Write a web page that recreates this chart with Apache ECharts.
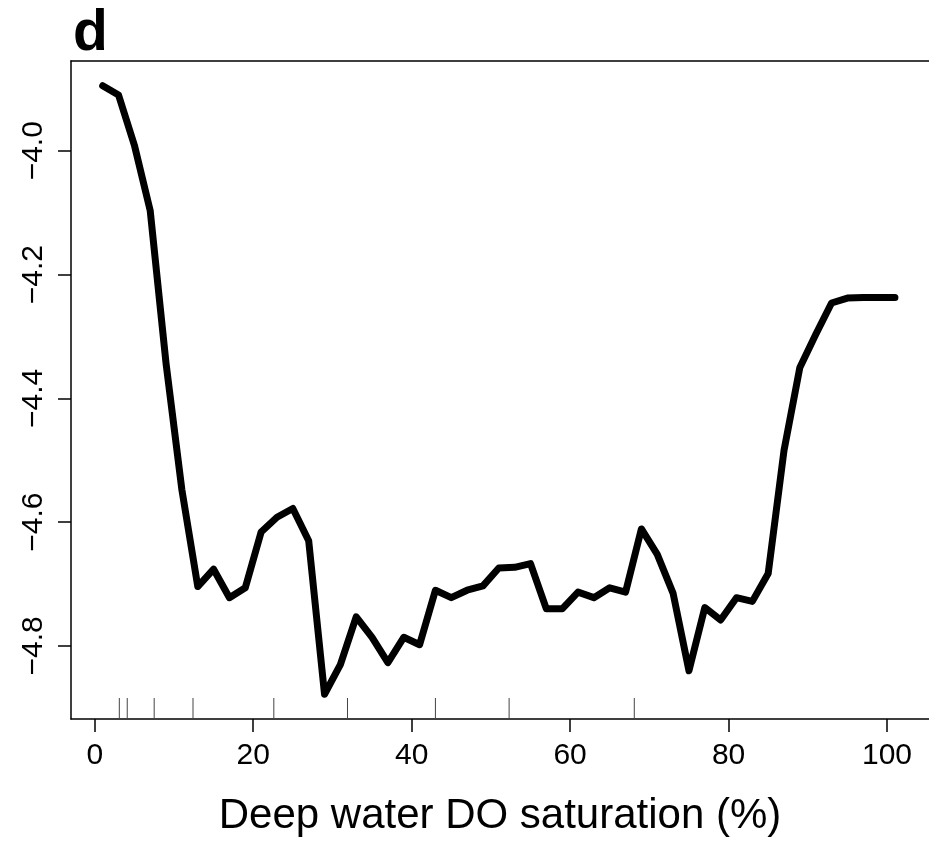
<!DOCTYPE html>
<html>
<head>
<meta charset="utf-8">
<script src="https://cdn.jsdelivr.net/npm/echarts@6/dist/echarts.min.js"></script>
<style>
  html, body { margin: 0; padding: 0; background: #fff; }
  #chart { width: 929px; height: 842px; }
</style>
</head>
<body>
<div id="chart"></div>
<script>
// DO saturation (%) and effect values
var doSat = [1, 3, 5, 7, 9, 11, 13, 15, 17, 19, 21, 23, 25, 27, 29, 31, 33, 35, 37, 39,
    41, 43, 45, 47, 49, 51, 53, 55, 57, 59, 61, 63, 65, 67, 69, 71, 73, 75, 77, 79,
    81, 83, 85, 87, 89, 91, 93, 95, 97, 99, 101];
var effect = [-3.895, -3.910, -3.991, -4.097, -4.344, -4.548, -4.704, -4.676, -4.722, -4.706,
    -4.616, -4.592, -4.578, -4.630, -4.878, -4.830, -4.753, -4.786, -4.827, -4.786,
    -4.798, -4.710, -4.722, -4.710, -4.703, -4.674, -4.673, -4.667, -4.740, -4.740,
    -4.713, -4.722, -4.706, -4.713, -4.611, -4.652, -4.715, -4.840, -4.738, -4.758,
    -4.722, -4.728, -4.683, -4.484, -4.350, -4.297, -4.246, -4.238, -4.237, -4.237, -4.237];
// rug marks along the x axis
var rugX = [3.1, 4.1, 7.5, 12.4, 22.6, 31.9, 43.0, 52.3, 68.1];
var xTicks = [0, 20, 40, 60, 80, 100];
var yTicks = [-4.8, -4.6, -4.4, -4.2, -4.0];

var xMin = -3, xMax = 105.3;
var yMin = -4.918, yMax = -3.855;
var font = 'Liberation Sans, Arial, Helvetica, sans-serif';

var chart = echarts.init(document.getElementById('chart'));

var lineData = doSat.map(function (x, i) { return [x, effect[i]]; });
var rugData = rugX.map(function (x) { return [x, yMin]; });

var axisLine = { show: true, onZero: false, lineStyle: { color: '#000', width: 1.5 } };

chart.setOption({
    animation: false,
    backgroundColor: '#fff',
    grid: { left: 71, right: -3, top: 61, bottom: 122 },
    graphic: [{
        type: 'text', left: 73, top: 6,
        style: { text: 'd', font: 'bold 57px ' + font, fill: '#000' }
    }],
    xAxis: [{
        type: 'value', min: xMin, max: xMax,
        splitLine: { show: false },
        axisLine: axisLine,
        axisTick: { show: true, customValues: xTicks, length: 13, lineStyle: { color: '#000', width: 1.5 } },
        axisLabel: {
            customValues: xTicks, color: '#000', fontSize: 30, fontFamily: font, margin: 22
        },
        name: 'Deep water DO saturation (%)',
        nameLocation: 'middle', nameGap: 76,
        nameTextStyle: { color: '#000', fontSize: 42, fontFamily: font }
    }, {
        // top edge of the box
        type: 'value', position: 'top', min: xMin, max: xMax,
        splitLine: { show: false }, axisLine: axisLine,
        axisTick: { show: false }, axisLabel: { show: false }
    }],
    yAxis: {
        type: 'value', min: yMin, max: yMax,
        splitLine: { show: false },
        axisLine: axisLine,
        axisTick: { show: true, customValues: yTicks, length: 13, lineStyle: { color: '#000', width: 1.5 } },
        axisLabel: {
            customValues: yTicks, rotate: 90, color: '#000', fontSize: 30, fontFamily: font, margin: 22,
            formatter: function (v) { return v.toFixed(1).replace('-', '\u2212'); }
        }
    },
    series: [{
        type: 'line',
        data: lineData,
        showSymbol: false,
        lineStyle: { color: '#000', width: 7, cap: 'round', join: 'round' }
    }, {
        type: 'custom',
        data: rugData,
        renderItem: function (params, api) {
            var p = api.coord([api.value(0), api.value(1)]);
            return {
                type: 'line',
                shape: { x1: p[0], y1: p[1], x2: p[0], y2: p[1] - 21 },
                style: { stroke: '#444', lineWidth: 1 }
            };
        }
    }]
});
</script>
</body>
</html>
